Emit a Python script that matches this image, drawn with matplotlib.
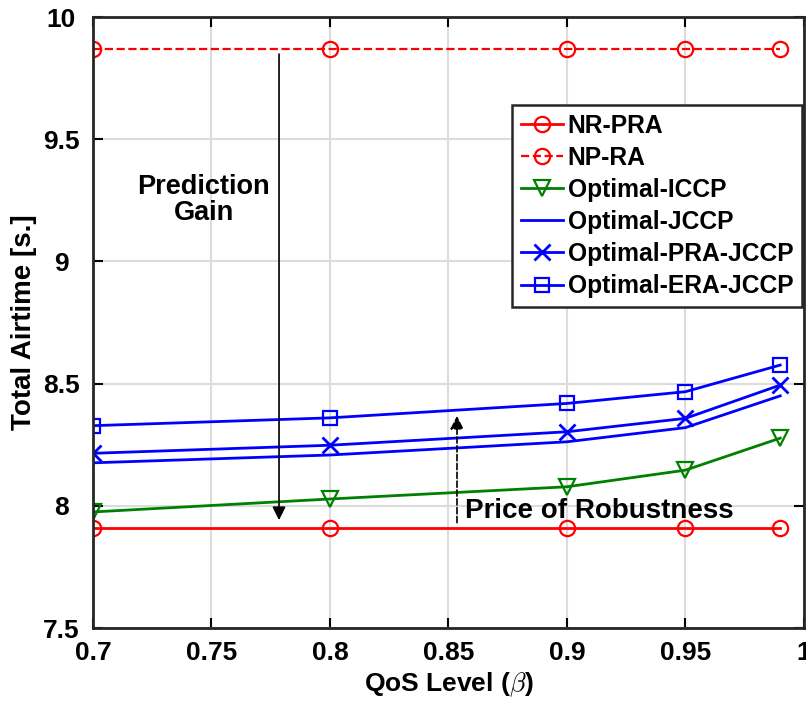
import matplotlib
matplotlib.use("Agg")
import matplotlib.pyplot as plt

plt.rcParams["font.family"] = ["Liberation Sans", "DejaVu Sans"]
plt.rcParams["font.weight"] = "bold"
plt.rcParams["mathtext.fontset"] = "cm"

# QoS levels and total airtime per scheme
beta = [0.7, 0.8, 0.9, 0.95, 0.99]
nr_pra = [7.91, 7.91, 7.91, 7.91, 7.91]
np_ra = [9.87, 9.87, 9.87, 9.87, 9.87]
opt_iccp = [7.975, 8.028, 8.078, 8.146, 8.277]
opt_jccp = [8.176, 8.208, 8.262, 8.320, 8.450]
opt_pra_jccp = [8.215, 8.248, 8.303, 8.358, 8.494]
opt_era_jccp = [8.328, 8.360, 8.419, 8.467, 8.576]

x_ticks = [0.7, 0.75, 0.8, 0.85, 0.9, 0.95, 1.0]
x_tick_labels = ["0.7", "0.75", "0.8", "0.85", "0.9", "0.95", "1"]
y_ticks = [7.5, 8, 8.5, 9, 9.5, 10]
y_tick_labels = ["7.5", "8", "8.5", "9", "9.5", "10"]

gain_x, gain_from, gain_to = 0.7785, 9.86, 7.93
price_x, price_from, price_to = 0.8536, 7.92, 8.38

fig = plt.figure(figsize=(8.06, 7.11), dpi=100)
ax = fig.add_axes([0.1154, 0.1167, 0.882, 0.8593])

lw = 2.0
ms = 11
ax.plot(beta, nr_pra, "-", color="red", lw=lw, marker="o", ms=ms,
        mfc="none", mew=1.6, label="NR-PRA")
ax.plot(beta, np_ra, "--", color="red", lw=1.6, marker="o", ms=ms,
        mfc="none", mew=1.6, label="NP-RA")
ax.plot(beta, opt_iccp, "-", color="green", lw=lw, marker="v", ms=ms + 1,
        mfc="none", mew=1.6, label="Optimal-ICCP")
ax.plot(beta, opt_jccp, "-", color="blue", lw=lw, label="Optimal-JCCP")
ax.plot(beta, opt_pra_jccp, "-", color="blue", lw=lw, marker="x", ms=ms,
        mew=2.0, label="Optimal-PRA-JCCP")
ax.plot(beta, opt_era_jccp, "-", color="blue", lw=lw, marker="s", ms=ms - 1,
        mfc="none", mew=1.6, label="Optimal-ERA-JCCP")

ax.annotate("", xy=(gain_x, gain_to), xytext=(gain_x, gain_from),
            arrowprops=dict(arrowstyle="-|>", color="black", lw=1.2,
                            mutation_scale=20))
ax.text(0.7468, 9.25, "Prediction\nGain", ha="center", va="center",
        fontsize=19.5, fontweight="bold", linespacing=1.0)
ax.annotate("", xy=(price_x, price_to), xytext=(price_x, price_from),
            arrowprops=dict(arrowstyle="-|>", color="black", lw=1.2,
                            linestyle="--", mutation_scale=20))
ax.text(0.857, 7.95, "Price of Robustness", ha="left", va="baseline",
        fontsize=20, fontweight="bold")

ax.set_xlim(0.7, 1.0)
ax.set_ylim(7.5, 10)
ax.set_xticks(x_ticks)
ax.set_xticklabels(x_tick_labels)
ax.set_yticks(y_ticks)
ax.set_yticklabels(y_tick_labels)
ax.tick_params(direction="in", length=7, width=1.5, labelsize=19,
               top=True, right=True)
ax.tick_params(axis="x", pad=9)
ax.tick_params(axis="y", pad=23)
for lab in ax.get_xticklabels() + ax.get_yticklabels():
    lab.set_fontweight("bold")
for lab in ax.get_yticklabels():
    lab.set_horizontalalignment("center")
ax.grid(True, color="#dcdcdc", lw=1.5)
ax.set_axisbelow(True)
for sp in ax.spines.values():
    sp.set_linewidth(2.0)
    sp.set_color("#262626")

ax.set_xlabel(r"QoS Level ($\beta$)", fontsize=19, fontweight="bold",
              labelpad=4)
ax.set_ylabel("Total Airtime [s.]", fontsize=20, fontweight="bold",
              labelpad=4)

leg = ax.legend(loc="upper right", bbox_to_anchor=(0.997, 0.856),
                borderaxespad=0, fontsize=17.7, frameon=True, fancybox=False,
                handlelength=1.7, handletextpad=0.2, borderpad=0.35,
                labelspacing=0.33, framealpha=1)
leg.get_frame().set_edgecolor("#262626")
leg.get_frame().set_linewidth(1.8)
for t in leg.get_texts():
    t.set_fontweight("bold")

fig.savefig("out.png", dpi=100)
